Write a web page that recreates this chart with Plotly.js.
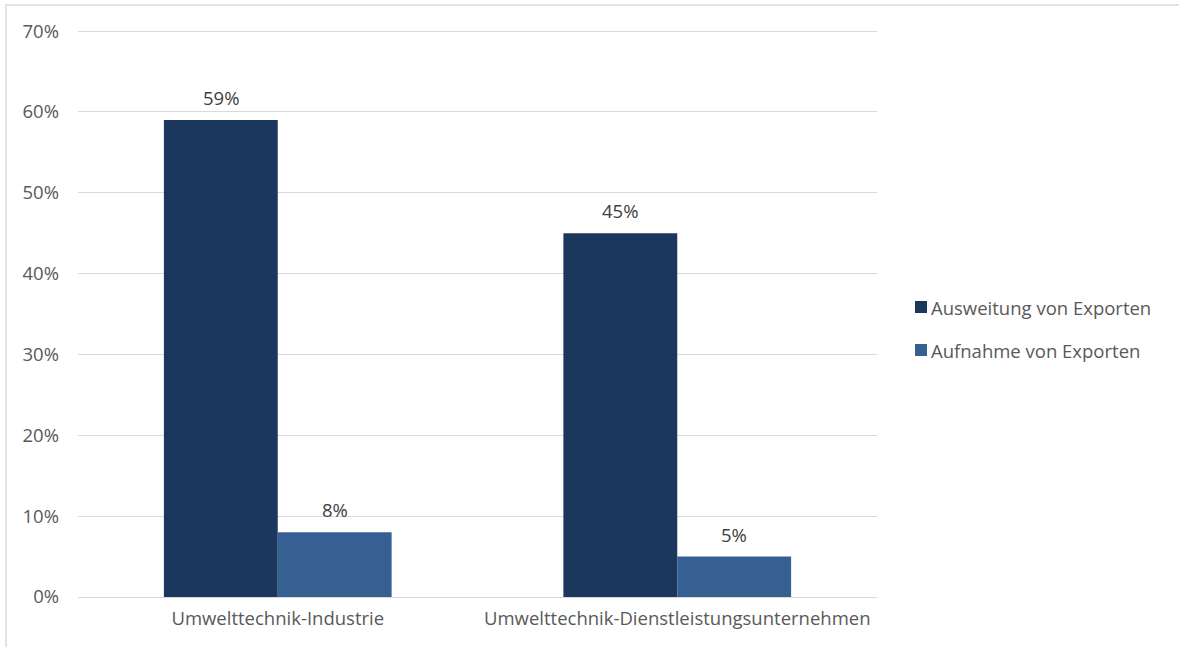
<!DOCTYPE html>
<html><head><meta charset="utf-8">
<script src="https://cdn.plot.ly/plotly-3.0.1.min.js"></script>
<style>html,body{margin:0;padding:0;background:#fff}</style>
</head><body>
<div id="chart" style="width:1179px;height:647px"></div>
<script>
const categories = ["Umwelttechnik-Industrie", "Umwelttechnik-Dienstleistungsunternehmen"];
const seriesNames = ["Ausweitung von Exporten", "Aufnahme von Exporten"];
const ausweitung = [0.59, 0.45];
const aufnahme = [0.08, 0.05];
const colors = ["#1b375e", "#366092"];

const W = 1179, H = 647, L = 78, R = 302, T = 29, B = 50;
const pw = W - L - R, ph = H - T - B;
const px = v => (v - L) / pw;
const py = v => (H - B - v) / ph;

const font = "Open Sans, Liberation Sans, sans-serif";
const FS = 18.5;
const series = [ausweitung, aufnahme];
const data = series.map((vals, i) => ({
  type: "bar", name: seriesNames[i], x: categories, y: vals,
  marker: {color: colors[i]}, showlegend: false, hoverinfo: "x+y",
  offsetgroup: String(i)
}));

const bargap = 0.43;
const barW = (1 - bargap) / 2;
const annotations = [];
series.forEach((vals, i) => {
  vals.forEach((v, j) => {
    annotations.push({x: j + (i - 0.5) * barW, y: v, xref: "x", yref: "y",
      text: Math.round(v * 100) + "%", showarrow: false, yanchor: "bottom", yshift: 8,
      font: {family: font, size: FS, color: "#404040"}});
  });
});
const shapes = [{type: "rect", xref: "paper", yref: "paper",
  x0: px(6), x1: px(1190), y0: py(5), y1: py(660),
  line: {color: "#d9d9d9", width: 1.5}, fillcolor: "rgba(0,0,0,0)", layer: "below"}];
const legY = [307, 350];
seriesNames.forEach((n, i) => {
  shapes.push({type: "rect", xref: "paper", yref: "paper",
    x0: px(915), x1: px(927), y0: py(legY[i] - 6), y1: py(legY[i] + 6),
    line: {width: 0}, fillcolor: colors[i]});
  annotations.push({xref: "paper", yref: "paper", x: px(929), y: py(legY[i]),
    xanchor: "left", yanchor: "middle", showarrow: false, text: n,
    font: {family: font, size: FS, color: "#595959"}});
});

const layout = {
  width: W, height: H,
  margin: {l: L, r: R, t: T, b: B},
  paper_bgcolor: "#fff", plot_bgcolor: "#fff",
  font: {family: font, color: "#595959", size: FS},
  barmode: "group", bargap: bargap, bargroupgap: 0,
  xaxis: {type: "category", showgrid: false, zeroline: false, showline: false,
          ticks: "", ticklabelstandoff: 8, tickfont: {size: FS, color: "#595959"}},
  yaxis: {range: [0, 0.7025], tickvals: [0,0.1,0.2,0.3,0.4,0.5,0.6,0.7], tickformat: ".0%", showgrid: true,
          gridcolor: "#d9d9d9", gridwidth: 1, zeroline: true, zerolinecolor: "#d9d9d9",
          showline: false, ticks: "", ticklabelstandoff: 18,
          tickfont: {size: FS, color: "#595959"}},
  showlegend: false,
  annotations: annotations,
  shapes: shapes
};
Plotly.newPlot("chart", data, layout, {displayModeBar: false, staticPlot: true});
</script>
</body></html>
